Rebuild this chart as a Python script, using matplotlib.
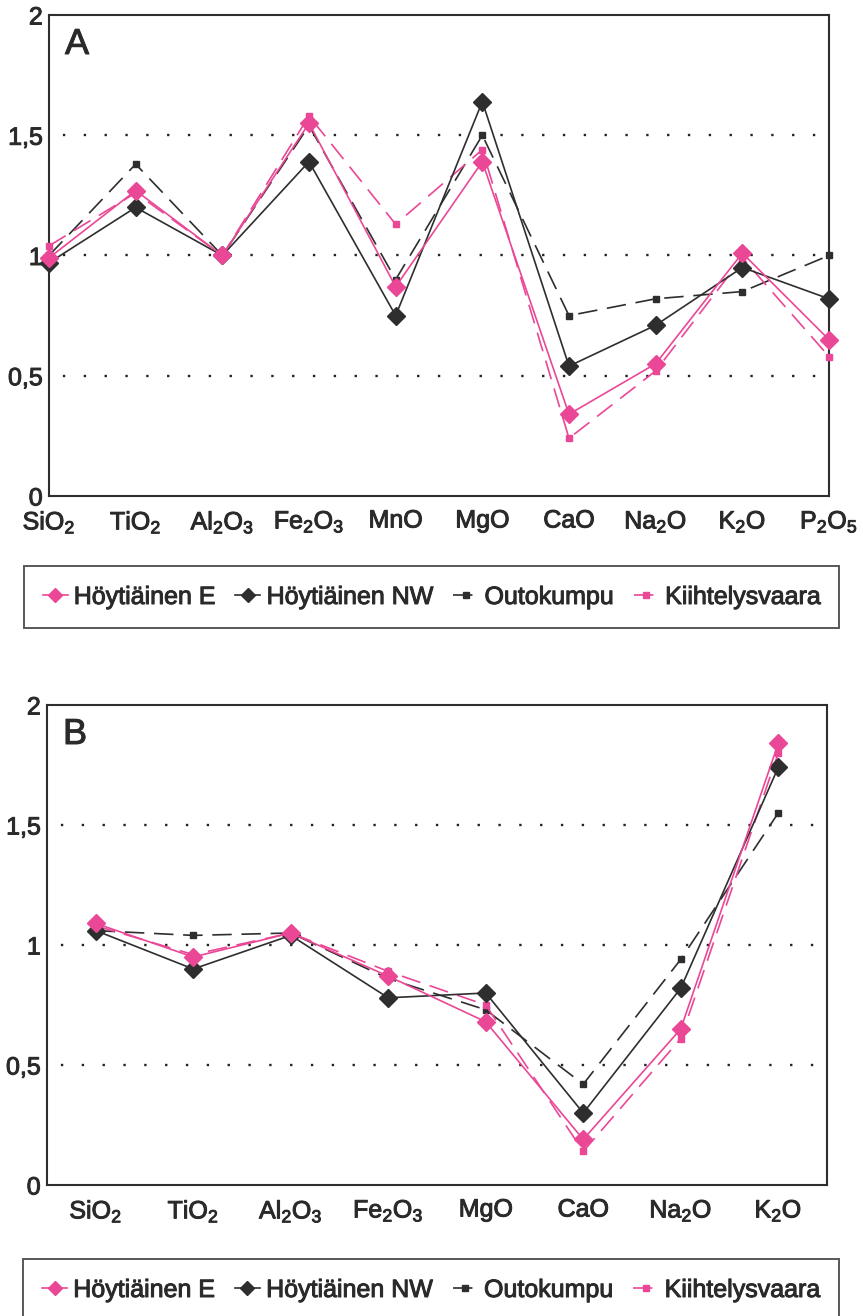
import matplotlib
matplotlib.use("Agg")
import matplotlib.pyplot as plt
from matplotlib.lines import Line2D
import matplotlib.patheffects as pe

plt.rcParams['font.family'] = ['Liberation Sans', 'DejaVu Sans']
plt.rcParams['mathtext.fontset'] = 'custom'
plt.rcParams['mathtext.rm'] = 'Liberation Sans'
plt.rcParams['mathtext.it'] = 'Liberation Sans'
plt.rcParams['mathtext.bf'] = 'Liberation Sans:bold'
plt.rcParams['lines.scale_dashes'] = False

# ---------------- data ----------------
cats_a = ['SiO$_2$', 'TiO$_2$', 'Al$_2$O$_3$', 'Fe$_2$O$_3$', 'MnO', 'MgO',
          'CaO', 'Na$_2$O', 'K$_2$O', 'P$_2$O$_5$']
a_hoyt_e = [0.99, 1.27, 1.00, 1.55, 0.87, 1.39, 0.34, 0.55, 1.01, 0.65]
a_hoyt_nw = [0.97, 1.20, 1.00, 1.39, 0.75, 1.64, 0.54, 0.71, 0.95, 0.82]
a_outokumpu = [1.00, 1.38, 1.00, 1.54, 0.90, 1.50, 0.75, 0.82, 0.85, 1.00]
a_kiiht = [1.04, 1.26, 1.00, 1.58, 1.13, 1.44, 0.24, 0.52, 0.99, 0.58]

cats_b = ['SiO$_2$', 'TiO$_2$', 'Al$_2$O$_3$', 'Fe$_2$O$_3$', 'MgO', 'CaO',
          'Na$_2$O', 'K$_2$O']
b_hoyt_e = [1.09, 0.95, 1.05, 0.87, 0.68, 0.19, 0.65, 1.84]
b_hoyt_nw = [1.06, 0.90, 1.04, 0.78, 0.80, 0.30, 0.82, 1.74]
b_outokumpu = [1.06, 1.04, 1.05, 0.86, 0.73, 0.42, 0.94, 1.55]
b_kiiht = [1.08, 0.96, 1.05, 0.89, 0.75, 0.14, 0.61, 1.80]

series_names = ['Höytiäinen E', 'Höytiäinen NW', 'Outokumpu', 'Kiihtelysvaara']
yticks = [0, 0.5, 1, 1.5, 2]
ytick_labels = ['0', '0,5', '1', '1,5', '2']

PINK = '#ea4796'
DARK = '#2e2e2e'
TXT = '#2a2a2a'
BOLDEN = [pe.withStroke(linewidth=0.7, foreground=TXT)]

styles = [
    dict(color=PINK, lw=1.2, ls='-', marker='D', ms=9, mfc=PINK, mec=PINK, zorder=6),
    dict(color=DARK, lw=1.2, ls='-', marker='D', ms=9, mfc=DARK, mec=DARK, zorder=5),
    dict(color=DARK, lw=1.2, ls=(0, (14, 7)), marker='s', ms=4, mfc=DARK, mec=DARK, zorder=4),
    dict(color=PINK, lw=1.2, ls=(0, (14, 7)), marker='s', ms=4, mfc=PINK, mec=PINK, zorder=4),
]

W, H = 863, 1316
fig = plt.figure(figsize=(W / 100, H / 100), dpi=100)

def panel(left, top, right, bottom, cats, data, xlim, letter):
    ax = fig.add_axes([left / W, 1 - bottom / H, (right - left) / W, (bottom - top) / H])
    x = list(range(len(cats)))
    for vals, st in zip(data, styles):
        ax.plot(x, vals, clip_on=False, **st)
    ax.set_xlim(*xlim)
    ax.set_ylim(0, 2)
    ax.set_yticks(yticks)
    ax.set_yticklabels(ytick_labels)
    ax.set_xticks(x)
    ax.set_xticklabels(cats)
    for yv in [0.5, 1.0, 1.5]:
        ax.axhline(yv, color='#222222', lw=1.7, ls=(-10, (1.7, 13.3)), zorder=1)
    ax.tick_params(axis='both', length=0, labelsize=18, colors=TXT)
    ax.tick_params(axis='y', pad=4.5)
    ax.tick_params(axis='x', pad=9)
    for t in ax.get_xticklabels() + ax.get_yticklabels():
        t.set_path_effects(BOLDEN)
    for s in ax.spines.values():
        s.set_color(DARK)
        s.set_linewidth(1.5)
    ax.text(16 / (right - left), 1 - 12 / (bottom - top), letter,
            transform=ax.transAxes, va='top', ha='left',
            fontsize=26, color=TXT, path_effects=BOLDEN)
    return ax

ax_a = panel(49, 15, 829, 496, cats_a,
             [a_hoyt_e, a_hoyt_nw, a_outokumpu, a_kiiht], (0, 9), 'A')
ax_b = panel(47, 705, 827, 1185, cats_b,
             [b_hoyt_e, b_hoyt_nw, b_outokumpu, b_kiiht], (-0.5, 7.5), 'B')

handles = []
for st, name in zip(styles, series_names):
    s = dict(st)
    s.pop('zorder')
    if s['marker'] == 'D':
        s['ms'] = 7.5
    handles.append(Line2D([], [], label=name, **s))

def legend(x_left, x_right, y_top, y_bot):
    cx = (x_left + x_right) / 2 / W
    cy = 1 - (y_top + y_bot) / 2 / H
    leg = fig.legend(handles=handles, loc='center', ncol=4,
                     bbox_to_anchor=(cx, cy), bbox_transform=fig.transFigure,
                     frameon=True, fancybox=False, edgecolor=DARK,
                     fontsize=18, handlelength=1.0, handletextpad=0.25,
                     borderpad=0.75, columnspacing=0.8, borderaxespad=0)
    leg.get_frame().set_linewidth(1.4)
    for t in leg.get_texts():
        t.set_color(TXT)
        t.set_path_effects(BOLDEN)
    return leg

legend(25, 838, 566, 628)
legend(25, 837, 1259, 1321)

fig.savefig('out.png', dpi=100)
